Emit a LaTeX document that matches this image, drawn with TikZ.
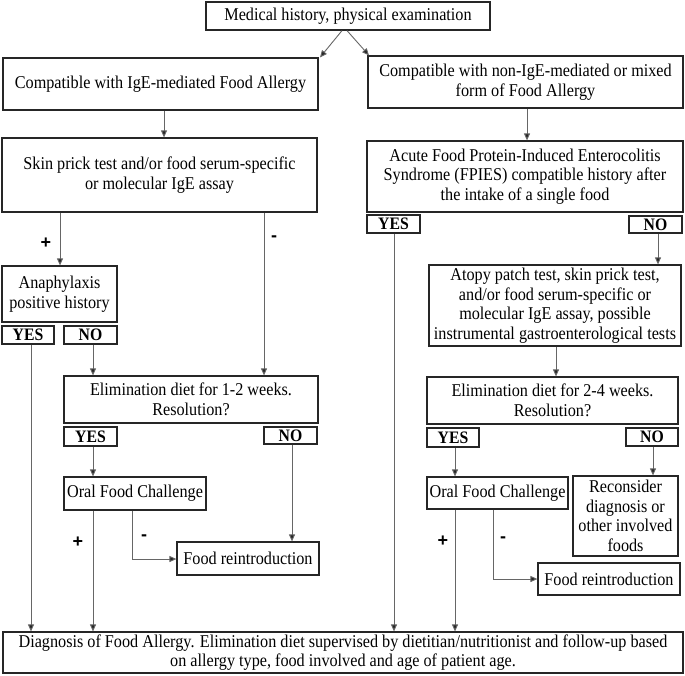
\documentclass[tikz,border=0pt]{standalone}
\usepackage{fontspec}
\setmainfont{Liberation Serif}[FakeStretch=0.9]
\newfontfamily\labfont{Liberation Sans}
\usetikzlibrary{arrows.meta}
\begin{document}
\begin{tikzpicture}[x=1pt,y=-1pt,
  box/.style={draw=black!85, line width=1.2pt, inner sep=0pt, align=center,
    font=\fontsize{18}{19.5}\selectfont, text=black},
  yn/.style={box, font=\fontsize{17.5}{17.5}\selectfont\bfseries},
  conn/.style={draw=black!60, line width=0.9pt},
  arr/.style={conn, -{Triangle[length=7pt,width=6pt,fill=black!85]}},
  sign/.style={font=\labfont\bfseries\fontsize{18}{18}\selectfont, inner sep=0pt}]
\useasboundingbox (0,0) rectangle (685,675);
% boxes
\node[box, minimum width=284pt, minimum height=28pt] (top) at (348,16) {Medical history, physical examination};
\node[box, minimum width=315pt, minimum height=52pt] (lone) at (160.5,84) {Compatible with IgE-mediated Food Allergy};
\node[box, minimum width=315pt, minimum height=52pt] (rone) at (525.5,82) {Compatible with non-IgE-mediated or mixed\\form of Food Allergy};
\node[box, minimum width=315pt, minimum height=74pt] (skin) at (159.5,175) {Skin prick test and/or food serum-specific\\or molecular IgE assay};
\node[box, minimum width=316pt, minimum height=71pt] (fpies) at (525,176.5) {Acute Food Protein-Induced Enterocolitis\\Syndrome (FPIES) compatible history after\\the intake of a single food};
\node[yn, minimum width=53pt, minimum height=18pt] (fyes) at (393.5,224) {YES};
\node[yn, minimum width=53pt, minimum height=17pt] (fno) at (655.5,224.5) {NO};
\node[box, minimum width=252pt, minimum height=81pt] (atopy) at (555,305.5) {Atopy patch test, skin prick test,\\and/or food serum-specific or\\molecular IgE assay, possible\\instrumental gastroenterological tests};
\node[box, minimum width=115pt, minimum height=56pt] (anaph) at (59.5,294) {Anaphylaxis\\positive history};
\node[yn, minimum width=52pt, minimum height=18pt] (ayes) at (28,335) {YES};
\node[yn, minimum width=53pt, minimum height=18pt] (ano) at (90.5,335) {NO};
\node[box, minimum width=254pt, minimum height=47pt] (elimone) at (191,399.5) {Elimination diet for 1-2 weeks.\\Resolution?};
\node[yn, minimum width=53pt, minimum height=19pt] (eoyes) at (90.5,436.5) {YES};
\node[yn, minimum width=53pt, minimum height=17pt] (eono) at (290.5,435.5) {NO};
\node[box, minimum width=142pt, minimum height=33pt] (ofcone) at (135,493.5) {Oral Food Challenge};
\node[box, minimum width=142pt, minimum height=33pt] (frone) at (248,558.5) {Food reintroduction};
\node[box, minimum width=251pt, minimum height=47pt] (elimtwo) at (552.5,400.5) {Elimination diet for 2-4 weeks.\\Resolution?};
\node[yn, minimum width=52pt, minimum height=19pt] (etyes) at (453,437.5) {YES};
\node[yn, minimum width=52pt, minimum height=18pt] (etno) at (652,437) {NO};
\node[box, minimum width=141pt, minimum height=32pt] (ofctwo) at (497.5,493) {Oral Food Challenge};
\node[box, minimum width=105pt, minimum height=80pt] (recon) at (625.5,516) {Reconsider\\diagnosis or\\other involved\\foods};
\node[box, minimum width=142pt, minimum height=32pt] (frtwo) at (609,579) {Food reintroduction};
\node[box, minimum width=680pt, minimum height=41pt] (final) at (343,652.5) {Diagnosis of Food Allergy. Elimination diet supervised by dietitian/nutritionist and follow-up based\\on allergy type, food involved and age of patient age.};
% connectors
\draw[arr] (top.south -| 342,0) -- (lone.north -| 320,0);
\draw[arr] (top.south -| 347,0) -- (rone.north -| 369,0);
\draw[arr] (lone.south -| 164,0) -- (skin.north -| 164,0);
\draw[arr] (rone.south -| 527,0) -- (fpies.north -| 527,0);
\draw[arr] (skin.south -| 60,0) -- (anaph.north -| 60,0);
\draw[arr] (skin.south -| 264,0) -- (elimone.north -| 264,0);
\draw[arr] (ayes.south -| 31,0) -- (final.north -| 31,0);
\draw[arr] (ano.south -| 93,0) -- (elimone.north -| 93,0);
\draw[arr] (eoyes.south -| 93,0) -- (ofcone.north -| 93,0);
\draw[arr] (eono.south -| 292,0) -- (frone.north -| 292,0);
\draw[arr] (ofcone.south -| 132,0) -- (132,559) -- (frone.west |- 0,559);
\draw[arr] (ofcone.south -| 93,0) -- (final.north -| 93,0);
\draw[arr] (fyes.south -| 394,0) -- (final.north -| 394,0);
\draw[arr] (fno.south -| 658,0) -- (atopy.north -| 658,0);
\draw[arr] (atopy.south -| 556,0) -- (elimtwo.north -| 556,0);
\draw[arr] (etyes.south -| 455,0) -- (ofctwo.north -| 455,0);
\draw[arr] (etno.south -| 653,0) -- (recon.north -| 653,0);
\draw[arr] (ofctwo.south -| 493,0) -- (493,579) -- (frtwo.west |- 0,579);
\draw[arr] (ofctwo.south -| 455,0) -- (final.north -| 455,0);
% signs
\node[sign] (s1) at (46,243) {+};
\node[sign] (s2) at (274,239) {-};
\node[sign] (s3) at (78,542) {+};
\node[sign] (s4) at (144,538) {-};
\node[sign] (s5) at (443,541) {+};
\node[sign] (s6) at (503,540) {-};
\end{tikzpicture}
\end{document}
